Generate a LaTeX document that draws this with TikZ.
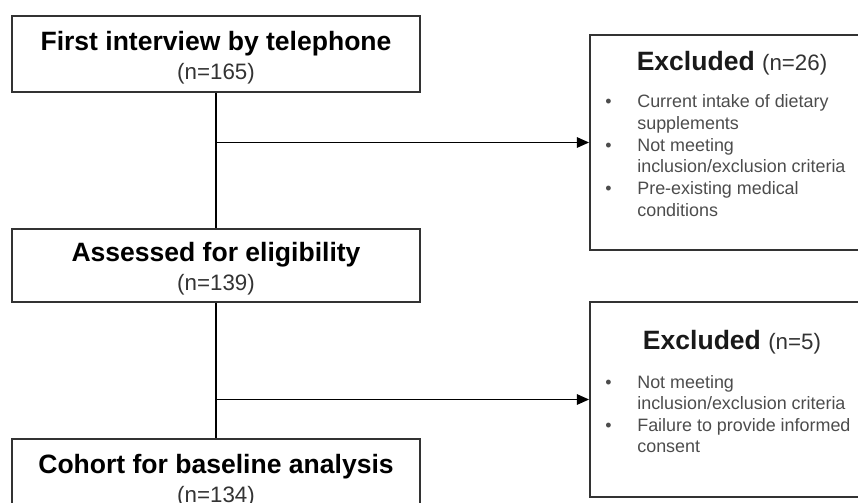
\documentclass[tikz,border=0pt]{standalone}
\usepackage{fontspec}
\setmainfont{Liberation Sans}
\usepackage{tikz}
\usetikzlibrary{arrows.meta, positioning}

\newcommand{\stagehead}[1]{{\fontsize{15.1}{18}\selectfont\bfseries\rule{0pt}{15pt}#1}}
\newcommand{\stagecount}[1]{{\color{black!80}#1}}

\begin{document}
\begin{tikzpicture}[
    x=0.02cm, y=-0.02cm,
    stage/.style={rectangle, draw=black!80, line width=1.1pt, minimum width=8.16cm, align=center, inner sep=0pt, font=\fontsize{12.7}{16.5}\selectfont},
    excluded/.style={rectangle, draw=black!80, line width=1.1pt, minimum width=5.68cm},
    heading/.style={font=\fontsize{15.1}{18}\selectfont\bfseries, text=black!90, anchor=base, inner sep=0pt},
    reasons/.style={font=\fontsize{10.2}{12.3}\selectfont, text=black!70, anchor=base west, inner sep=0pt},
    arrow/.style={-{Triangle[length=7pt, width=6pt]}, line width=0.85pt},
    link/.style={line width=0.85pt}
]
    \useasboundingbox (0,0) rectangle (858,503);
    \clip (0,0) rectangle (858,503);

    % Stages
    \node [stage, minimum height=1.52cm] (interview) at (216,54) {\stagehead{First interview by telephone}\\\stagecount{(n=165)}};
    \node [stage, minimum height=1.46cm] (assessed) at (216,265.5) {\stagehead{Assessed for eligibility}\\\stagecount{(n=139)}};
    \node [stage, minimum height=1.52cm] (cohort) at (216,477) {\stagehead{Cohort for baseline analysis}\\\stagecount{(n=134)}};

    % Exclusions
    \node [excluded, minimum height=4.3cm] (excl1) at (732,142.5) {};
    \node [heading] (excl1head) at (732,71) {Excluded {\mdseries\fontsize{12.7}{15}\selectfont\color{black!80}(n=26)}};
    \node [reasons] (excl1list) at (605,108) {\begin{tabular}[t]{@{}p{18.2pt}@{}l@{}}
        \textbullet & Current intake of dietary\\
                    & supplements\\
        \textbullet & Not meeting\\
                    & inclusion/exclusion criteria\\
        \textbullet & Pre-existing medical\\
                    & conditions
    \end{tabular}};

    \node [excluded, minimum height=3.9cm] (excl2) at (732,399.5) {};
    \node [heading] (excl2head) at (732,349) {Excluded {\mdseries\fontsize{12.7}{15}\selectfont\color{black!80}(n=5)}};
    \node [reasons] (excl2list) at (605,388) {\begin{tabular}[t]{@{}p{18.2pt}@{}l@{}}
        \textbullet & Not meeting\\
                    & inclusion/exclusion criteria\\
        \textbullet & Failure to provide informed\\
                    & consent
    \end{tabular}};

    % Connections
    \coordinate (split1) at (interview.south |- excl1.west);
    \coordinate (split2) at (assessed.south |- excl2.west);
    \draw [link] (interview) -- (assessed);
    \draw [link] (assessed) -- (cohort);
    \draw [arrow] (split1) -- (excl1.west);
    \draw [arrow] (split2) -- (excl2.west);
\end{tikzpicture}
\end{document}
